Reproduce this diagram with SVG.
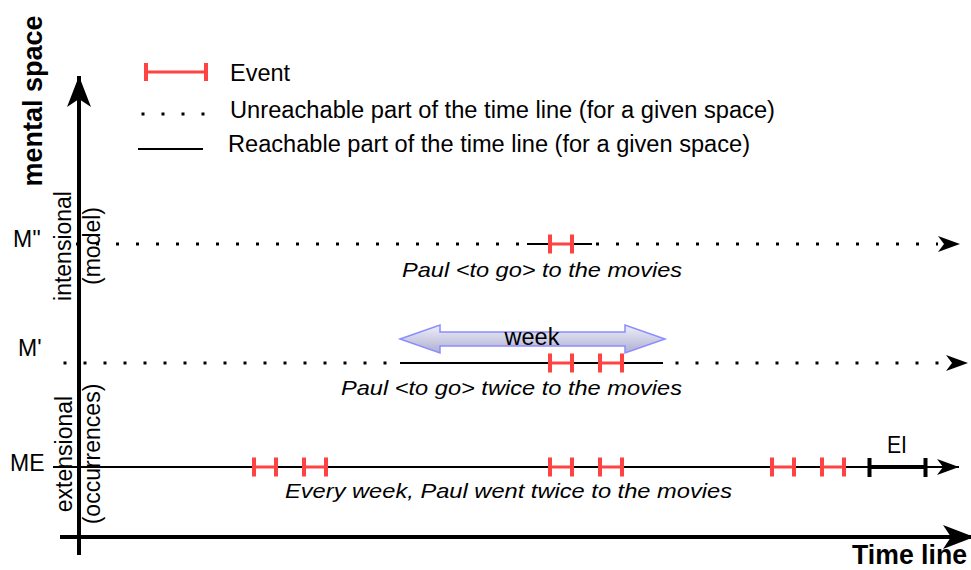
<svg xmlns="http://www.w3.org/2000/svg" xmlns:xlink="http://www.w3.org/1999/xlink" width="971" height="570" viewBox="0 0 971 570">
<style>
text{font-family:"Liberation Sans",Arial,Helvetica,sans-serif;fill:#000}
.lbl{font-size:23.5px}
.side{font-size:23px}
.bold{font-size:27px;font-weight:bold}
.it{font-size:21px;font-style:italic}
.solid{stroke:#000;stroke-width:2;fill:none}
.dot{stroke:#000;stroke-width:3;stroke-dasharray:3 17;fill:none}
.axis{stroke:#000;stroke-width:4;fill:none}
.ev{stroke:#ff4242;fill:none}
</style>
<defs>
<marker id="arrS" viewBox="0 0 22 16" refX="22" refY="8" markerWidth="22" markerHeight="16" markerUnits="userSpaceOnUse" orient="auto">
<path d="M0,0 L22,8 L0,16 L6,8 Z" fill="#000"/>
</marker>
<marker id="arrL" viewBox="0 0 31 24" refX="31" refY="12" markerWidth="31" markerHeight="24" markerUnits="userSpaceOnUse" orient="auto">
<path d="M0,0 L31,12 L0,24 L8,12 Z" fill="#000"/>
</marker>
<g id="ev">
<path d="M1,9.5 H25" class="ev" stroke-width="3"/>
<path d="M2,0 V19 M24,0 V19" class="ev" stroke-width="4"/>
</g>
<linearGradient id="wk" x1="0" y1="0" x2="0" y2="1">
<stop offset="0" stop-color="#efeffb"/>
<stop offset="1" stop-color="#aeaed0"/>
</linearGradient>
</defs>

<g id="legend">
<g id="legend-event">
<path d="M145,72 H207" class="ev" stroke-width="3"/>
<path d="M146,63 V81 M206,63 V81" class="ev" stroke-width="4"/>
<text class="lbl" x="230" y="81">Event</text>
</g>
<g id="legend-unreachable">
<path d="M141.5,114 H205" class="dot"/>
<text class="lbl" x="230" y="118" textLength="545" lengthAdjust="spacingAndGlyphs">Unreachable part of the time line (for a given space)</text>
</g>
<g id="legend-reachable">
<path d="M138,149 H203" class="solid"/>
<text class="lbl" x="228" y="152" textLength="522" lengthAdjust="spacingAndGlyphs">Reachable part of the time line (for a given space)</text>
</g>
</g>

<g id="axis-labels">
<text class="bold" transform="translate(42,101) rotate(-90)" text-anchor="middle">mental space</text>
<text class="bold" x="852" y="564" font-size="26" textLength="115" lengthAdjust="spacingAndGlyphs">Time line</text>
<text class="side" x="13" y="247">M''</text>
<text class="side" x="18" y="356">M'</text>
<text class="side" x="10" y="471">ME</text>
<text class="side" transform="translate(71,246) rotate(-90)" text-anchor="middle">intensional</text>
<text class="side" transform="translate(100,246) rotate(-90)" text-anchor="middle">(model)</text>
<text class="side" transform="translate(72,454) rotate(-90)" text-anchor="middle">extensional</text>
<text class="side" transform="translate(100,454) rotate(-90)" text-anchor="middle">(occurrences)</text>
</g>

<g id="connectors">
<path id="y-axis" d="M79,555 V76" class="axis" marker-end="url(#arrL)"/>
<path id="x-axis" d="M60,537 H974" class="axis" marker-end="url(#arrL)"/>
<path id="line-M2" d="M76,244 H524 M596,244 H938" class="dot"/>
<path d="M938,244 H960" stroke="none" fill="none" marker-end="url(#arrS)"/>
<path id="line-M2-solid" d="M527,244 H592" class="solid"/>
<path id="line-M1" d="M63.5,363 H396 M675.5,363 H946" class="dot"/>
<path d="M946,363 H968" stroke="none" fill="none" marker-end="url(#arrS)"/>
<path id="line-M1-solid" d="M400,363 H663" class="solid"/>
<path id="line-ME" d="M53,467 H959" class="solid" marker-end="url(#arrS)"/>
</g>

<g id="node-M2">
<use xlink:href="#ev" x="548" y="234.5"/>
<text class="it" x="402" y="277" textLength="280" lengthAdjust="spacingAndGlyphs">Paul &lt;to go&gt; to the movies</text>
</g>

<g id="node-week">
<path d="M400,339 L440,325 L440,332 L625,332 L625,325 L665,339 L625,353 L625,346 L440,346 L440,353 Z" fill="url(#wk)" stroke="#8c8cff" stroke-width="1.5"/>
<text class="lbl" x="532" y="345" text-anchor="middle" font-size="22.5">week</text>
</g>

<g id="node-M1">
<use xlink:href="#ev" x="548" y="353.5"/>
<use xlink:href="#ev" x="598" y="353.5"/>
<text class="it" x="341" y="395" textLength="341" lengthAdjust="spacingAndGlyphs">Paul &lt;to go&gt; twice to the movies</text>
</g>

<g id="node-ME">
<use xlink:href="#ev" x="252" y="457.5"/>
<use xlink:href="#ev" x="302" y="457.5"/>
<use xlink:href="#ev" x="548" y="457.5"/>
<use xlink:href="#ev" x="598" y="457.5"/>
<use xlink:href="#ev" x="770" y="457.5"/>
<use xlink:href="#ev" x="820" y="457.5"/>
<text class="it" x="285" y="498" textLength="447" lengthAdjust="spacingAndGlyphs">Every week, Paul went twice to the movies</text>
</g>

<g id="node-EI">
<path d="M869.5,467 H925.5" stroke="#000" stroke-width="4"/>
<path d="M869.5,458 V477 M925.5,458 V477" stroke="#000" stroke-width="4"/>
<text class="side" x="887" y="453" font-size="20" textLength="20" lengthAdjust="spacingAndGlyphs">EI</text>
</g>
</svg>
